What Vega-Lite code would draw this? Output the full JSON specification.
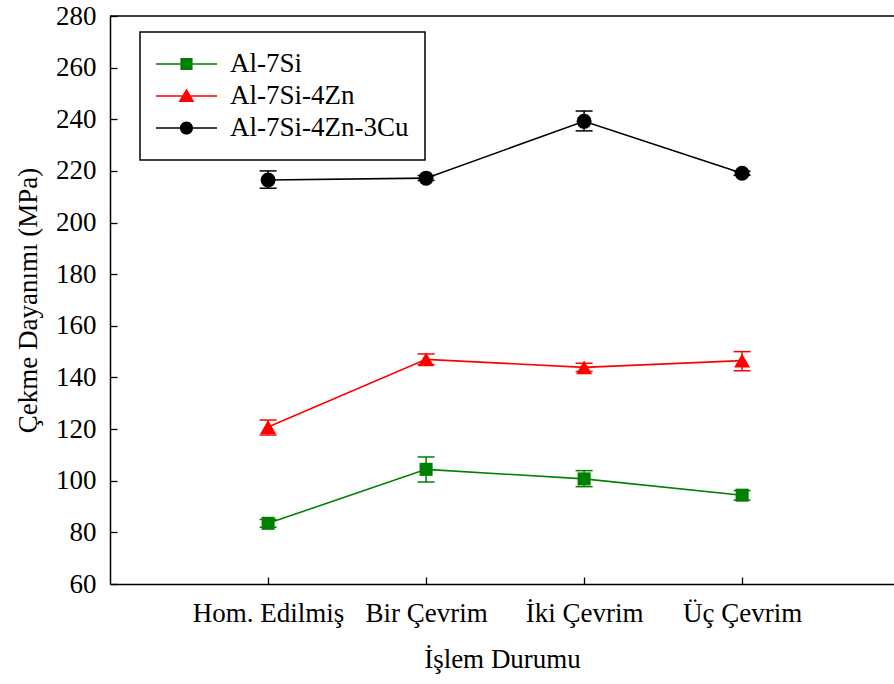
{
  "$schema": "https://vega.github.io/schema/vega-lite/v6.json",
  "autosize": {"type": "none"},
  "padding": {"left": 110, "top": 16, "right": 0, "bottom": 100},
  "width": 784,
  "height": 568,
  "background": "white",
  "config": {
    "view": {"stroke": null},
    "font": "Liberation Serif",
    "axis": {
      "domainColor": "black",
      "domainWidth": 1.5,
      "tickColor": "black",
      "tickWidth": 1.3,
      "tickSize": -7,
      "grid": false,
      "labelFont": "Liberation Serif",
      "labelFontSize": 27,
      "labelColor": "black",
      "titleFont": "Liberation Serif",
      "titleFontSize": 27,
      "titleFontWeight": "normal",
      "titleColor": "black"
    },
    "legend": {
      "labelFont": "Liberation Serif",
      "labelFontSize": 27,
      "labelColor": "black",
      "labelLimit": 0
    }
  },
  "layer": [
    {
      "data": {"values": [{"top": 280}]},
      "mark": {"type": "rule", "color": "black", "strokeWidth": 1.5},
      "encoding": {"y": {"field": "top", "type": "quantitative", "scale": {"domain": [60, 280], "nice": false, "zero": false},
        "axis": {"title": "Çekme Dayanımı (MPa)", "values": [60, 80, 100, 120, 140, 160, 180, 200, 220, 240, 260, 280], "labelPadding": 21, "titlePadding": 13}}}
    },
    {
      "data": {
        "values": [
          {"durum": "Hom. Edilmiş", "seri": "Al-7Si", "mean": 83.5, "lo": 82.0, "hi": 85.0},
          {"durum": "Bir Çevrim", "seri": "Al-7Si", "mean": 104.4, "lo": 99.5, "hi": 109.2},
          {"durum": "İki Çevrim", "seri": "Al-7Si", "mean": 100.7, "lo": 97.7, "hi": 103.9},
          {"durum": "Üç Çevrim", "seri": "Al-7Si", "mean": 94.4, "lo": 92.5, "hi": 96.2},
          {"durum": "Hom. Edilmiş", "seri": "Al-7Si-4Zn", "mean": 120.8, "lo": 117.7, "hi": 123.5},
          {"durum": "Bir Çevrim", "seri": "Al-7Si-4Zn", "mean": 147.0, "lo": 145.0, "hi": 149.1},
          {"durum": "İki Çevrim", "seri": "Al-7Si-4Zn", "mean": 143.9, "lo": 142.3, "hi": 145.5},
          {"durum": "Üç Çevrim", "seri": "Al-7Si-4Zn", "mean": 146.5, "lo": 142.6, "hi": 150.0},
          {"durum": "Hom. Edilmiş", "seri": "Al-7Si-4Zn-3Cu", "mean": 216.5, "lo": 213.3, "hi": 220.0},
          {"durum": "Bir Çevrim", "seri": "Al-7Si-4Zn-3Cu", "mean": 217.2, "lo": 216.3, "hi": 218.2},
          {"durum": "İki Çevrim", "seri": "Al-7Si-4Zn-3Cu", "mean": 239.2, "lo": 235.5, "hi": 243.2},
          {"durum": "Üç Çevrim", "seri": "Al-7Si-4Zn-3Cu", "mean": 219.1, "lo": 218.3, "hi": 219.9}
        ]
      },
      "encoding": {
        "x": {
          "field": "durum",
          "type": "ordinal",
          "sort": ["Hom. Edilmiş", "Bir Çevrim", "İki Çevrim", "Üç Çevrim"],
          "scale": {"type": "point", "domain": ["Hom. Edilmiş", "Bir Çevrim", "İki Çevrim", "Üç Çevrim"], "padding": 0.981, "align": 0.51},
          "axis": {"title": "İşlem Durumu", "labelAngle": 0, "labelPadding": 23, "titlePadding": 20}
        },
        "color": {
          "field": "seri",
          "type": "nominal",
          "scale": {"domain": ["Al-7Si", "Al-7Si-4Zn", "Al-7Si-4Zn-3Cu"], "range": ["#008000", "#ff0000", "#000000"]},
          "legend": {
            "orient": "none",
            "legendX": 30,
            "legendY": 16,
            "title": null,
            "symbolSize": 3721,
            "symbolStrokeWidth": 0,
            "clipHeight": 32,
            "labelFont": "Liberation Serif",
            "labelFontSize": 27,
            "labelColor": "black",
            "labelLimit": 0,
            "labelOffset": 13,
            "padding": 16,
            "rowPadding": 0,
            "fillColor": "white",
            "strokeColor": "black",
            "encoding": {
              "legend": {"strokeWidth": {"value": 1.5}},
              "symbols": {
                "shape": {"value": {"expr": "datum.value === 'Al-7Si' ? 'M-1,-0.025H1V0.025H-1Z M-0.2,-0.2H0.2V0.2H-0.2Z' : (datum.value === 'Al-7Si-4Zn' ? 'M-1,-0.025H1V0.025H-1Z M0,-0.25L0.26,0.2L-0.26,0.2Z' : 'M-1,-0.025H1V0.025H-1Z M0.215,0A0.215,0.215 0 1,1 -0.215,0A0.215,0.215 0 1,1 0.215,0Z')"}},
                "size": {"value": 3721},
                "fill": {"value": {"expr": "scale('color', datum.value)"}},
                "stroke": {"value": {"expr": "scale('color', datum.value)"}},
                "strokeWidth": {"value": 0},
                "opacity": {"value": 1}
              }
            }
          }
        }
      },
      "layer": [
        {
          "mark": {"type": "line", "strokeWidth": 1.6},
          "encoding": {
            "y": {"field": "mean", "type": "quantitative", "scale": {"domain": [60, 280], "nice": false, "zero": false},
              "axis": {"title": "Çekme Dayanımı (MPa)", "values": [60, 80, 100, 120, 140, 160, 180, 200, 220, 240, 260, 280], "labelPadding": 21, "titlePadding": 13}}
          }
        },
        {
          "mark": {"type": "rule", "strokeWidth": 1.5},
          "encoding": {
            "y": {"field": "lo", "type": "quantitative"},
            "y2": {"field": "hi"}
          }
        },
        {
          "mark": {"type": "tick", "thickness": 1.5, "size": 17, "opacity": 1},
          "encoding": {"y": {"field": "lo", "type": "quantitative"}}
        },
        {
          "mark": {"type": "tick", "thickness": 1.5, "size": 17, "opacity": 1},
          "encoding": {"y": {"field": "hi", "type": "quantitative"}}
        },
        {
          "transform": [{"filter": "datum.seri === 'Al-7Si'"}],
          "mark": {"type": "point", "filled": true, "opacity": 1, "shape": "square", "size": 170},
          "encoding": {"y": {"field": "mean", "type": "quantitative"}}
        },
        {
          "transform": [{"filter": "datum.seri === 'Al-7Si-4Zn'"}],
          "mark": {"type": "point", "filled": true, "opacity": 1, "shape": "triangle-up", "size": 256},
          "encoding": {"y": {"field": "mean", "type": "quantitative"}}
        },
        {
          "transform": [{"filter": "datum.seri === 'Al-7Si-4Zn-3Cu'"}],
          "mark": {"type": "point", "filled": true, "opacity": 1, "shape": "circle", "size": 225},
          "encoding": {"y": {"field": "mean", "type": "quantitative"}}
        }
      ]
    }
  ]
}
